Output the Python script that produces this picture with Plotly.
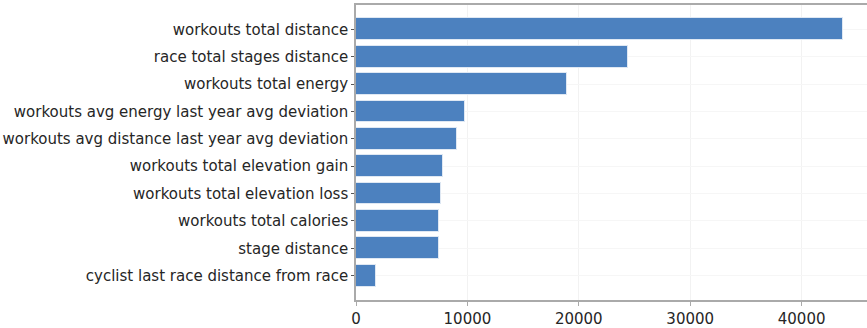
import plotly.graph_objects as go

features = [
    "workouts total distance",
    "race total stages distance",
    "workouts total energy",
    "workouts avg energy last year avg deviation",
    "workouts avg distance last year avg deviation",
    "workouts total elevation gain",
    "workouts total elevation loss",
    "workouts total calories",
    "stage distance",
    "cyclist last race distance from race",
]
importance = [43700, 24420, 18910, 9810, 9095, 7780, 7630, 7470, 7430, 1770]
x_ticks = [0, 10000, 20000, 30000, 40000]

fig = go.Figure(
    go.Bar(
        x=importance,
        y=list(range(len(features))),
        orientation="h",
        width=0.8,
        marker=dict(color="#4C81BF", line=dict(color="#dfe8f3", width=1)),
    )
)

font = dict(family="DejaVu Sans", size=15, color="#262626")

fig.update_layout(
    width=867,
    height=328,
    margin=dict(l=356, r=0, t=5, b=23),
    plot_bgcolor="white",
    paper_bgcolor="white",
    showlegend=False,
    bargap=0,
    xaxis=dict(
        range=[0, 45870],
        tickvals=x_ticks,
        ticktext=[str(v) for v in x_ticks],
        tickfont=font,
        showline=True,
        linecolor="#aaaaaa",
        linewidth=1.5,
        mirror=True,
        ticks="outside",
        ticklen=4,
        tickcolor="#aaaaaa",
        showgrid=True,
        gridcolor="#f2f2f2",
        gridwidth=1,
        zeroline=False,
    ),
    yaxis=dict(
        range=[9.89, -0.89],
        tickvals=list(range(len(features))),
        ticktext=features,
        tickfont=font,
        showline=True,
        linecolor="#aaaaaa",
        linewidth=1.5,
        ticks="outside",
        ticklen=3,
        tickcolor="#555555",
        showgrid=True,
        gridcolor="#f6f6f6",
        zeroline=False,
    ),
)

fig.write_html("out.html")
